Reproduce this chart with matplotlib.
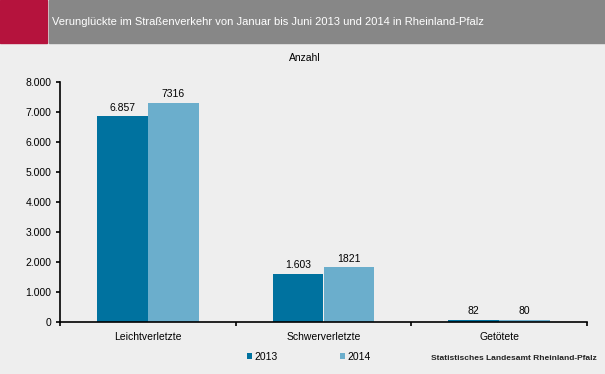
import matplotlib.pyplot as plt
import numpy as np
from matplotlib.ticker import FuncFormatter
from matplotlib.patches import Rectangle

plt.rcParams['font.family'] = ['Liberation Sans', 'DejaVu Sans']

categories = ["Leichtverletzte", "Schwerverletzte", "Getötete"]
values_2013 = [6857, 1603, 82]
values_2014 = [7316, 1821, 80]
labels_2013 = ["6.857", "1.603", "82"]
labels_2014 = ["7316", "1821", "80"]

bg = "#EEEEEE"
c2013 = "#00729F"
c2014 = "#6BAECC"

fig = plt.figure(figsize=(6.05, 3.74), dpi=100, facecolor=bg)

# header band
fig.patches.append(Rectangle((0, 1 - 43/374), 47/605, 43/374, transform=fig.transFigure,
                             color="#B5133D", zorder=0))
fig.patches.append(Rectangle((49/605, 1 - 43/374), 1 - 49/605, 43/374, transform=fig.transFigure,
                             color="#878787", zorder=0))
fig.text(52/605, 1 - 22/374, "Verunglückte im Straßenverkehr von Januar bis Juni 2013 und 2014 in Rheinland-Pfalz",
         color="white", fontsize=8, va="center", ha="left")

ax = fig.add_axes([60/605, 1 - 322/374, 527/605, 240/374])
ax.set_facecolor(bg)

x = np.arange(len(categories))
width = 0.29
bars1 = ax.bar(x - width/2, values_2013, width, color=c2013, label="2013")
bars2 = ax.bar(x + width/2, values_2014, width, color=c2014, label="2014")

for b, t in zip(bars1, labels_2013):
    ax.text(b.get_x() + b.get_width()/2, b.get_height() + 120, t, ha="center", va="bottom", fontsize=7.5)
for b, t in zip(bars2, labels_2014):
    ax.text(b.get_x() + b.get_width()/2, b.get_height() + 120, t, ha="center", va="bottom", fontsize=7.5)

ax.set_xlim(-0.5, 2.5)
ax.set_ylim(0, 8000)
ax.set_yticks(np.arange(0, 8001, 1000))
ax.yaxis.set_major_formatter(FuncFormatter(lambda v, p: f"{int(v):,}".replace(",", ".")))
ax.set_xticks(x)
ax.set_xticklabels(categories)
ax.set_xticks([-0.5, 0.5, 1.5, 2.5], minor=True)
ax.tick_params(axis="x", which="major", length=0, labelsize=7.5, pad=7)
ax.tick_params(axis="x", which="minor", length=3, width=1.2)
ax.tick_params(axis="y", length=3, width=1.2, labelsize=7.5, pad=3)

for s in ["top", "right"]:
    ax.spines[s].set_visible(False)
for s in ["left", "bottom"]:
    ax.spines[s].set_linewidth(1.2)

fig.text(305/605, 1 - 58/374, "Anzahl", ha="center", va="center", fontsize=7.5)

fig.legend(handles=[bars1, bars2], labels=["2013", "2014"], loc="center",
           bbox_to_anchor=(309/605, 1 - 357/374), ncol=2, frameon=False,
           fontsize=7.5, handlelength=0.5, handleheight=0.5, columnspacing=6.0,
           handletextpad=0.2)

fig.text(597/605, 1 - 358/374, "Statistisches Landesamt Rheinland-Pfalz",
         ha="right", va="center", fontsize=6, fontweight="bold", color="#222222")

fig.savefig("out.png", dpi=100, facecolor=bg)
